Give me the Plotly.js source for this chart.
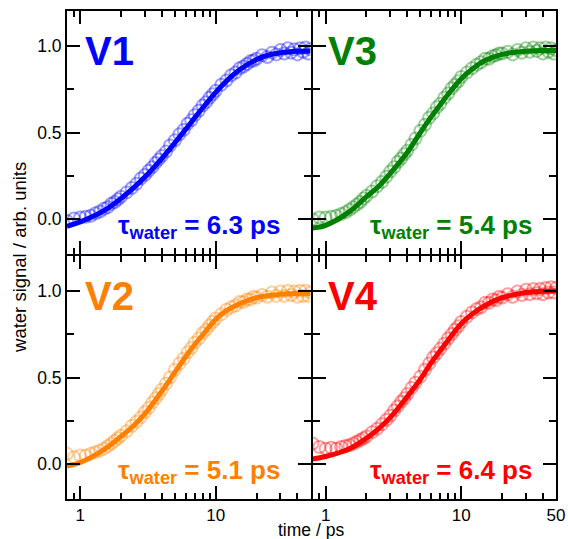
<!DOCTYPE html>
<html>
<head>
<meta charset="utf-8">
<script src="https://cdn.plot.ly/plotly-3.0.1.min.js"></script>
<style>
html,body{margin:0;padding:0;background:#fff;}
#chart{width:568px;height:539px;}
</style>
</head>
<body>
<div id="chart"></div>
<script>
// ---- data ----
const time = [0.8,0.9,1.0,1.1,1.2,1.3,1.4,1.5,1.6,1.7,1.8,1.9,2.0,2.2,2.4,2.6,2.8,3.0,3.2,3.4,3.6,3.8,4.0,4.3,4.6,5.0,5.4,5.8,6.2,6.6,7.0,7.5,8.0,8.5,9.0,9.5,10,11,12,13,14,15,16,17,18,19,20,22,24,26,28,30,32,34,36,38,40,42,44,46,48,50];

const v1Data = [-0.01,0.005,0.01,0.015,0.02,0.035,0.045,0.06,0.07,0.09,0.10,0.115,0.13,
  0.155,0.18,0.205,0.235,0.255,0.28,0.30,0.325,0.345,0.365,
  0.39,0.425,0.455, 0.49,0.515,0.55,0.57,0.60,
  0.625,0.655,0.675,0.70,0.72,0.74,
  0.775,0.80,0.83,0.845,0.87,0.88,0.895,0.91,0.915,0.925,
  0.945,0.935,0.96,0.95,0.975,0.955,0.985,0.96,0.98,0.95,0.985,0.965,0.99,0.955,0.98];

const v3Data = [0.0,0.01,0.01,0.015,0.02,0.03,0.04,0.055,0.07,0.085,0.10,0.12,0.135,
  0.16,0.19,0.215,0.245,0.275,0.30,0.33,0.35,0.375,0.395,
  0.43,0.465,0.51, 0.545,0.585,0.61,0.645,0.665,
  0.70,0.725,0.755,0.775,0.795,0.82,
  0.845,0.87,0.89,0.905,0.925,0.925,0.94,0.945,0.955,0.955,
  0.965,0.95,0.975,0.96,0.985,0.965,0.99,0.97,0.985,0.955,0.99,0.965,0.985,0.955,0.975];

const v2Data = [0.06,0.04,0.05,0.05,0.06,0.07,0.08,0.09,0.105,0.12,0.135,0.15,0.165,
  0.19,0.22,0.245,0.27,0.30,0.325,0.355,0.38,0.405,0.43,
  0.465,0.50,0.545, 0.58,0.61,0.645,0.67,0.70,
  0.725,0.755,0.775,0.80,0.82,0.84,
  0.865,0.89,0.905,0.915,0.935,0.935,0.95,0.95,0.965,0.96,
  0.975,0.965,0.99,0.97,0.995,0.97,1.0,0.975,0.995,0.965,1.0,0.97,1.0,0.97,0.99];

const v4Data = [0.12,0.10,0.09,0.095,0.09,0.10,0.105,0.11,0.12,0.13,0.14,0.15,0.16,
  0.185,0.205,0.23,0.255,0.28,0.31,0.335,0.36,0.38,0.405,
  0.44,0.47,0.505, 0.545,0.58,0.615,0.64,0.665,
  0.695,0.725,0.75,0.775,0.795,0.82,
  0.85,0.875,0.895,0.905,0.93,0.93,0.95,0.945,0.965,0.96,
  0.98,0.965,0.995,0.975,1.005,0.98,1.01,0.985,1.01,0.98,1.015,0.99,1.02,0.99,1.015];

const fitTime = [0.8,1,1.5,2,2.5,3,4,5,6,7,8,10,12,15,20,25,30,40,50];
const v1Fit = [-0.04,-0.015,0.05,0.12,0.184,0.243,0.35,0.441,0.518,0.585,0.641,0.731,0.796,0.861,0.921,0.948,0.96,0.968,0.97];
const v3Fit = [-0.05,-0.035,0.044,0.13,0.195,0.265,0.385,0.50,0.59,0.66,0.72,0.81,0.865,0.915,0.95,0.962,0.968,0.972,0.972];
const v2Fit = [-0.01,0.01,0.085,0.16,0.225,0.29,0.42,0.53,0.62,0.69,0.745,0.835,0.885,0.925,0.96,0.972,0.98,0.984,0.985];
const v4Fit = [0.03,0.045,0.09,0.15,0.21,0.27,0.39,0.49,0.585,0.655,0.715,0.81,0.865,0.915,0.96,0.978,0.99,0.997,1.0];

const panelNames = ["V1","V3","V2","V4"];
const tauLabels = ["6.3","5.4","5.1","6.4"];
const xTickVals = [1,10];
const xTickValsLast = [1,10,50];
const xMinorVals = [0.9,2,3,4,5,6,7,8,9,20,30,40];
const yTickVals = [0,0.5,1.0];
const yTickText = ["0.0","0.5","1.0"];
const yMinorVals = [0.25,0.75];

// ---- styling ----
const colors = ["rgb(0,0,255)","rgb(0,128,0)","rgb(255,128,0)","rgb(255,0,0)"];
const FONT = "Liberation Sans, Arial, Helvetica, sans-serif";
const dataSets = [v1Data,v3Data,v2Data,v4Data];
const fitSets = [v1Fit,v3Fit,v2Fit,v4Fit];
const axIds = ["","2","3","4"];

const traces = [];
for (let i=0;i<4;i++){
  traces.push({x:time,y:dataSets[i],xaxis:"x"+axIds[i],yaxis:"y"+axIds[i],
    type:"scatter",mode:"markers",
    marker:{symbol:"circle-open",size:12,color:colors[i],opacity:0.38,line:{width:2,color:colors[i]}},
    hoverinfo:"skip",showlegend:false});
  traces.push({x:fitTime,y:fitSets[i],xaxis:"x"+axIds[i],yaxis:"y"+axIds[i],
    type:"scatter",mode:"lines",line:{color:colors[i],width:5,shape:"spline"},
    hoverinfo:"skip",showlegend:false});
}

const xr=[Math.log10(0.8),Math.log10(50)];
function xAxis(domain, anchor, showLabels, vals){
  return {type:"log",range:xr,domain:domain,anchor:anchor,
    tickmode:"array",tickvals:vals,ticktext:vals.map(String),
    showticklabels:showLabels,ticks:"inside",ticklen:13,tickwidth:2,tickcolor:"#000",
    minor:{tickmode:"array",tickvals:xMinorVals,ticks:"inside",ticklen:6,tickwidth:2,tickcolor:"#000"},
    showline:true,linewidth:2,linecolor:"#000",mirror:"allticks",showgrid:false,zeroline:false,
    tickfont:{family:FONT,size:17,color:"#000"}};
}
function yAxis(domain, anchor, showLabels){
  return {range:[-0.2,1.2],domain:domain,anchor:anchor,
    tickmode:"array",tickvals:yTickVals,ticktext:yTickText,
    showticklabels:showLabels,ticks:"inside",ticklen:13,tickwidth:2,tickcolor:"#000",
    minor:{tickmode:"array",tickvals:yMinorVals,ticks:"inside",ticklen:7,tickwidth:2,tickcolor:"#000"},
    showline:true,linewidth:2,linecolor:"#000",mirror:"allticks",showgrid:false,zeroline:false,
    tickfont:{family:FONT,size:17.5,color:"#000"}};
}

const annotations=[];
const vx=[0.065,0.057,0.065,0.057];
const tx=[0.885,0.91,0.885,0.91];
for(let i=0;i<4;i++){
  annotations.push({xref:"x"+axIds[i]+" domain",yref:"y"+axIds[i],x:vx[i],y:0.97,
    xanchor:"left",yanchor:"middle",showarrow:false,text:"<b>"+panelNames[i]+"</b>",
    font:{family:FONT,size:40,color:colors[i]}});
  annotations.push({xref:"x"+axIds[i]+" domain",yref:"y"+axIds[i],x:tx[i],y:-0.04,
    xanchor:"right",yanchor:"middle",showarrow:false,
    text:"<b>τ<sub>water</sub> = "+tauLabels[i]+" ps</b>",
    font:{family:FONT,size:26,color:colors[i]}});
}
annotations.push({xref:"paper",yref:"paper",x:-0.096,y:0.494,xanchor:"center",yanchor:"middle",
  textangle:-90,showarrow:false,text:"water signal / arb. units",font:{family:FONT,size:18.5,color:"#000"}});
annotations.push({xref:"paper",yref:"paper",x:0.499,y:-0.063,xanchor:"center",yanchor:"middle",
  showarrow:false,text:"time / ps",font:{family:FONT,size:17.5,color:"#000"}});

const g = 1/489, gy = 1/488;
const layout={width:568,height:539,margin:{l:67,r:12,t:11,b:40},
  paper_bgcolor:"#fff",plot_bgcolor:"rgba(0,0,0,0)",showlegend:false,
  xaxis:xAxis([0,0.5-g],"y",false,xTickVals),
  yaxis:yAxis([0.5+gy,1],"x",true),
  xaxis2:xAxis([0.5+g,1],"y2",false,xTickVals),
  yaxis2:yAxis([0.5+gy,1],"x2",false),
  xaxis3:xAxis([0,0.5-g],"y3",true,xTickVals),
  yaxis3:yAxis([0,0.5-gy],"x3",true),
  xaxis4:xAxis([0.5+g,1],"y4",true,xTickValsLast),
  yaxis4:yAxis([0,0.5-gy],"x4",false),
  annotations:annotations};

Plotly.newPlot("chart",traces,layout,{staticPlot:true,displayModeBar:false});
</script>
</body>
</html>
